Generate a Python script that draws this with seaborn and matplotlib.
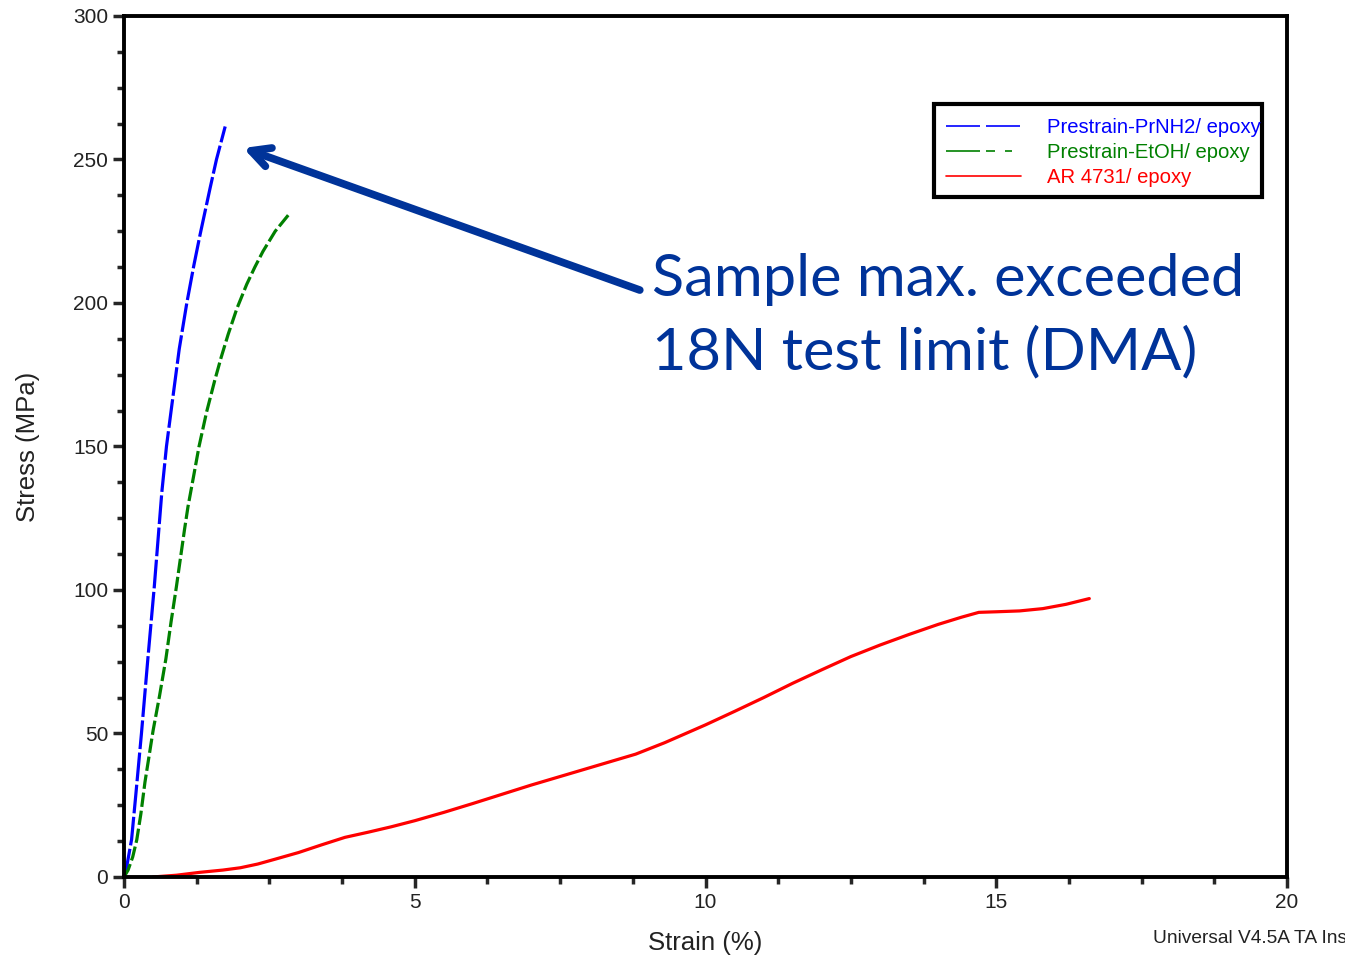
import numpy as np
import pandas as pd
import seaborn as sns
import matplotlib.pyplot as plt
from matplotlib.lines import Line2D
from matplotlib.patches import Rectangle
from matplotlib.ticker import MultipleLocator

# Stress-strain data
strain_prnh2 = [0.0, 0.05, 0.13, 0.20, 0.30, 0.41, 0.52, 0.65, 0.73, 0.82, 0.95, 1.08, 1.20, 1.31, 1.48, 1.59, 1.74]
stress_prnh2 = [0.0, 4.0, 13.0, 28.0, 50.0, 76.0, 101.0, 134.0, 150.0, 164.0, 184.0, 200.0, 213.0, 224.0, 240.0, 250.0, 261.5]

strain_etoh = [0.0, 0.07, 0.15, 0.22, 0.29, 0.36, 0.43, 0.50, 0.61, 0.72, 0.81, 0.90, 0.97, 1.04, 1.10, 1.20, 1.29,
               1.42, 1.56, 1.67, 1.79, 1.94, 2.11, 2.25, 2.39, 2.60, 2.84]
stress_etoh = [0.0, 2.4, 7.0, 13.0, 22.0, 33.0, 42.0, 51.0, 63.0, 76.0, 89.0, 101.0, 111.0, 121.0, 129.0, 140.0, 150.0,
               162.0, 173.0, 181.0, 189.0, 198.0, 206.5, 212.5, 218.0, 225.0, 231.0]

strain_ar = [0.5, 0.9, 1.3, 1.7, 2.0, 2.3, 2.6, 3.0, 3.4, 3.8, 4.2, 4.6, 5.0, 5.5, 6.0, 6.5, 7.0, 7.5, 8.0, 8.5, 8.8,
             9.3, 10.0, 10.5, 11.0, 11.5, 12.0, 12.5, 13.0, 13.5, 14.0, 14.4, 14.7, 15.0, 15.4, 15.8, 16.2, 16.6]
stress_ar = [0.0, 0.6, 1.6, 2.4, 3.2, 4.5, 6.2, 8.5, 11.2, 13.8, 15.6, 17.5, 19.6, 22.5, 25.6, 28.8, 32.0, 35.0, 38.0,
             41.0, 42.8, 46.8, 53.0, 57.7, 62.5, 67.5, 72.2, 76.8, 80.8, 84.5, 88.0, 90.5, 92.2, 92.4, 92.7, 93.5,
             95.0, 97.0]

labels = ["Prestrain-PrNH2/ epoxy", "Prestrain-EtOH/ epoxy", "AR 4731/ epoxy"]
colors = ["#0000ff", "#008000", "#ff0000"]

df = pd.concat([
    pd.DataFrame({"strain": strain_prnh2, "stress": stress_prnh2, "sample": labels[0]}),
    pd.DataFrame({"strain": strain_etoh, "stress": stress_etoh, "sample": labels[1]}),
    pd.DataFrame({"strain": strain_ar, "stress": stress_ar, "sample": labels[2]}),
])

sns.set_style("white")
plt.rcParams['font.family'] = ['Liberation Sans', 'DejaVu Sans']

fig = plt.figure(figsize=(13.45, 9.58), dpi=100)
ax = fig.add_axes([0.0922, 0.0846, 0.8647, 0.8987])

sns.lineplot(data=df, x="strain", y="stress", hue="sample", style="sample",
             palette=dict(zip(labels, colors)),
             dashes={labels[0]: (9, 1.1), labels[1]: (4.5, 1.2), labels[2]: ""},
             sort=False, estimator=None, linewidth=2.3, legend=False, ax=ax)

ax.set_xlim(0, 20)
ax.set_ylim(0, 300)
ax.xaxis.set_major_locator(MultipleLocator(5))
ax.xaxis.set_minor_locator(MultipleLocator(1.25))
ax.yaxis.set_major_locator(MultipleLocator(50))
ax.yaxis.set_minor_locator(MultipleLocator(12.5))
ax.tick_params(which="major", direction="out", length=8, width=2.5, labelsize=15,
               labelcolor="#222222", bottom=True, left=True, top=False, right=False)
ax.tick_params(which="minor", direction="out", length=5, width=2.5, bottom=True, left=True)
for s in ax.spines.values():
    s.set_linewidth(2.8)
    s.set_color("black")

ax.set_xlabel("Strain (%)", fontsize=18.5, color="#222222", labelpad=14)
ax.set_ylabel("Stress (MPa)", fontsize=18.5, color="#222222", labelpad=24)

# legend: thin proxy lines, box drawn separately (text runs past it in the original)
handles = [Line2D([], [], color=colors[0], lw=1.2, dashes=(20.4, 3.6, 20.4, 3.6)),
           Line2D([], [], color=colors[1], lw=1.2, dashes=(20.4, 3.6, 5.4, 6, 4.2, 30)),
           Line2D([], [], color=colors[2], lw=1.2)]
ax.legend(handles, labels, loc="upper left", bbox_to_anchor=(0.7068, 0.8815), frameon=False,
          fontsize=14.6, labelcolor="linecolor", handlelength=3.7, handletextpad=1.3,
          labelspacing=0.3, borderpad=0, borderaxespad=0)
ax.add_patch(Rectangle((0.6965, 0.7898), 0.282, 0.108, transform=ax.transAxes,
                       fill=False, edgecolor="black", linewidth=3, zorder=5, clip_on=False))

# annotation with arrow pointing at the PrNH2 curve end
ax.annotate("", xy=(2.05, 254), xytext=(8.87, 204.5),
            arrowprops=dict(arrowstyle="->,head_length=1.35,head_width=0.7", color="#003399",
                            lw=5.5, shrinkA=0, shrinkB=0))
ax.text(9.08, 195.3, "Sample max. exceeded\n18N test limit (DMA)", fontsize=42.8, color="#003399",
        family=["Lato", "DejaVu Sans"], va="center", ha="left", linespacing=1.45)

fig.text(0.857, 0.0157, "Universal V4.5A TA Ins", fontsize=13.8, color="#222222")

fig.savefig("out.png", dpi=100)
